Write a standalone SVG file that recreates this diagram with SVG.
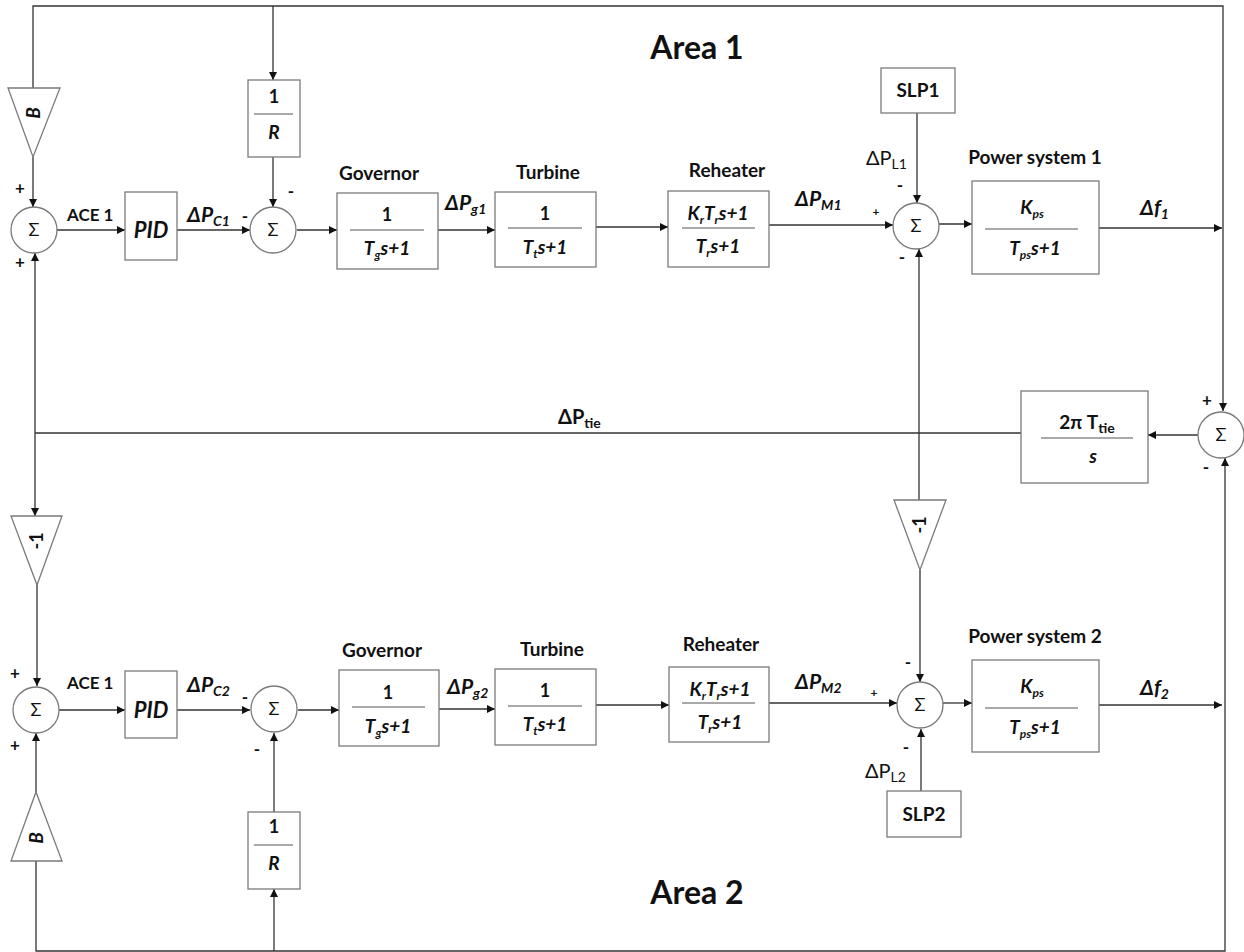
<svg xmlns="http://www.w3.org/2000/svg" width="1244" height="952" viewBox="0 0 1244 952">
<defs>
<marker id="ah" viewBox="0 0 10 10" refX="10" refY="5" markerWidth="9" markerHeight="8" markerUnits="userSpaceOnUse" orient="auto">
<path d="M0,0 L10,5 L0,10 z" fill="#111"/>
</marker>
<style>
.blk{fill:#fff;stroke:#7a7a7a;stroke-width:1.3}
.frac{stroke:#555;stroke-width:1.2}
.c{fill:none;stroke:#333;stroke-width:1.3}
.a{marker-end:url(#ah)}
text{font-family:"Lato","Open Sans","Liberation Sans",sans-serif;fill:#111}
.lb{font-size:19px;font-weight:bold}
.ace{font-size:17px;font-weight:bold}
.ar{font-size:32px;font-weight:bold}
.bi{font-size:19px;font-weight:bold;font-style:italic}
.dp{font-size:21px;font-weight:bold;font-style:italic}
.bn{font-size:18px;font-weight:bold}
.sg{font-size:17px;font-weight:bold}
.sm{font-size:12px;font-weight:bold}
.sm2{font-size:14px;font-weight:bold}
.sig{font-size:18px}
.m{text-anchor:middle}
.dl{font-size:20px}
</style>
</defs>
<rect width="1244" height="952" fill="#fff"/>

<g id="connectors">
<path class="c a" d="M33,88 V6 H1223 V411"/>
<path class="c a" d="M273,6 V80"/>
<path class="c a" d="M33,157 V207"/>
<path class="c a" d="M273,157 V207"/>
<path class="c a" d="M57,230 H125"/>
<path class="c a" d="M177,230 H250"/>
<path class="c a" d="M297,230 H337"/>
<path class="c a" d="M438,230 H495"/>
<path class="c a" d="M596,227 H668"/>
<path class="c a" d="M769,225 H893"/>
<path class="c a" d="M917,113 V203"/>
<path class="c a" d="M939,224 H972"/>
<path class="c a" d="M1099,228 H1222"/>
<path class="c a" d="M1198,435 H1148"/>
<path class="c" d="M1021,433 H35"/>
<path class="c a" d="M35,431 V253"/>
<path class="c a" d="M35,431 V516"/>
<path class="c a" d="M37,585 V686"/>
<path class="c a" d="M919,500 V249"/>
<path class="c a" d="M920,570 V682"/>
<path class="c a" d="M59,710 H125"/>
<path class="c a" d="M177,710 H250"/>
<path class="c a" d="M298,710 H339"/>
<path class="c a" d="M439,709 H495"/>
<path class="c a" d="M596,705 H669"/>
<path class="c a" d="M769,703 H897"/>
<path class="c a" d="M943,703 H972"/>
<path class="c a" d="M1099,705 H1222"/>
<path class="c a" d="M921,791 V729"/>
<path class="c a" d="M36,792 V733"/>
<path class="c a" d="M36,861 V951 H1225 V458"/>
<path class="c a" d="M274,951 V889"/>
<path class="c a" d="M274,812 V733"/>
</g>

<g id="titles">
<text class="ar m" x="697" y="59">Area 1</text>
<text class="ar m" x="697" y="904">Area 2</text>
</g>

<!-- Area 1 -->
<g id="gainB1">
<polygon class="blk" points="8,88 60,88 33,157"/>
<text class="bi m" transform="translate(40,113) rotate(-90)">B</text>
</g>
<g id="sum1">
<circle class="blk" cx="34" cy="230" r="23"/>
<text class="sig m" x="34" y="236">Σ</text>
<text class="sg m" x="20" y="194">+</text>
<text class="sg m" x="20" y="268">+</text>
</g>
<g id="pid1">
<rect class="blk" x="125" y="192" width="52" height="68"/>
<text class="m" x="151" y="238" style="font-size:22px;font-weight:bold;font-style:italic">PID</text>
</g>
<text class="ace" x="67" y="221">ACE 1</text>
<text class="dp" x="187" y="222">ΔP<tspan class="sm2" dy="4">C1</tspan></text>
<g id="invR1">
<rect class="blk" x="248" y="80" width="52" height="77"/>
<text class="bn m" x="274" y="103">1</text>
<line class="frac" x1="254" y1="114" x2="293" y2="114"/>
<text class="bi m" x="274" y="139">R</text>
</g>
<g id="sum2">
<circle class="blk" cx="273" cy="230" r="23"/>
<text class="sig m" x="273" y="236">Σ</text>
<text class="sg m" x="291" y="197">-</text>
<text class="sg m" x="245" y="222">-</text>
</g>
<g id="gov1">
<text class="lb m" x="379" y="180">Governor</text>
<rect class="blk" x="337" y="193" width="101" height="76"/>
<text class="bn m" x="387" y="221">1</text>
<line class="frac" x1="350" y1="230" x2="424" y2="230"/>
<text class="bi m" x="387" y="255">T<tspan class="sm" dy="4">g</tspan><tspan dy="-4">s+1</tspan></text>
</g>
<text class="dp" x="445" y="210">ΔP<tspan class="sm2" dy="4">g1</tspan></text>
<g id="turb1">
<text class="lb m" x="548" y="179">Turbine</text>
<rect class="blk" x="495" y="192" width="101" height="75"/>
<text class="bn m" x="545" y="220">1</text>
<line class="frac" x1="508" y1="228" x2="582" y2="228"/>
<text class="bi m" x="545" y="254">T<tspan class="sm" dy="4">t</tspan><tspan dy="-4">s+1</tspan></text>
</g>
<g id="reh1">
<text class="lb m" x="727" y="177">Reheater</text>
<rect class="blk" x="668" y="191" width="101" height="76"/>
<text class="bi m" x="718" y="220">K<tspan class="sm" dy="4">r</tspan><tspan dy="-4">T</tspan><tspan class="sm" dy="4">r</tspan><tspan dy="-4">s+1</tspan></text>
<line class="frac" x1="682" y1="228" x2="755" y2="228"/>
<text class="bi m" x="718" y="253">T<tspan class="sm" dy="4">r</tspan><tspan dy="-4">s+1</tspan></text>
</g>
<text class="dp" x="795" y="206">ΔP<tspan class="sm2" dy="4">M1</tspan></text>
<g id="slp1">
<rect class="blk" x="881" y="68" width="74" height="45"/>
<text class="lb m" x="918" y="97">SLP1</text>
</g>
<text class="dl" x="866" y="165">ΔP<tspan style="font-size:14px" dy="4">L1</tspan></text>
<g id="sum3">
<circle class="blk" cx="916" cy="226" r="23"/>
<text class="sig m" x="916" y="232">Σ</text>
<text class="sg m" x="900" y="191">-</text>
<text class="m" x="876" y="216" style="font-size:12px;font-weight:bold">+</text>
<text class="sg m" x="902" y="263">-</text>
</g>
<g id="ps1">
<text class="lb m" x="1035" y="164">Power system 1</text>
<rect class="blk" x="972" y="181" width="127" height="93"/>
<text class="bi m" x="1032" y="214">K<tspan class="sm" dy="4">ps</tspan></text>
<line class="frac" x1="985" y1="229" x2="1078" y2="229"/>
<text class="bi m" x="1035" y="255">T<tspan class="sm" dy="4">ps</tspan><tspan dy="-4">s+1</tspan></text>
</g>
<text class="dp" x="1140" y="215">Δf<tspan class="sm2" dy="4">1</tspan></text>

<!-- Tie line -->
<g id="sumTie">
<circle class="blk" cx="1221" cy="435" r="23"/>
<text class="sig m" x="1221" y="441">Σ</text>
<text class="sg m" x="1207" y="406">+</text>
<text class="sg m" x="1206" y="473">-</text>
</g>
<g id="tie">
<rect class="blk" x="1021" y="391" width="127" height="92"/>
<text class="lb m" x="1087" y="429">2π T<tspan class="sm2" dy="4">tie</tspan></text>
<line class="frac" x1="1041" y1="438" x2="1133" y2="438"/>
<text class="bi m" x="1093" y="463">s</text>
</g>
<text x="558" y="424" style="font-size:20px;font-weight:bold">ΔP<tspan class="sm2" dy="4">tie</tspan></text>
<g id="neg1a">
<polygon class="blk" points="11,516 62,516 37,585"/>
<text class="bn m" transform="translate(43,541) rotate(-90)">-1</text>
</g>
<g id="neg1b">
<polygon class="blk" points="894,500 946,500 920,570"/>
<text class="bn m" transform="translate(926,525) rotate(-90)">-1</text>
</g>

<!-- Area 2 -->
<g id="sum5">
<circle class="blk" cx="36" cy="710" r="23"/>
<text class="sig m" x="36" y="716">Σ</text>
<text class="sg m" x="15" y="679">+</text>
<text class="sg m" x="15" y="751">+</text>
</g>
<text class="ace" x="67" y="689">ACE 1</text>
<g id="pid2">
<rect class="blk" x="125" y="671" width="52" height="67"/>
<text class="m" x="151" y="718" style="font-size:22px;font-weight:bold;font-style:italic">PID</text>
</g>
<text class="dp" x="187" y="692">ΔP<tspan class="sm2" dy="4">C2</tspan></text>
<g id="sum6">
<circle class="blk" cx="274" cy="709" r="23"/>
<text class="sig m" x="274" y="715">Σ</text>
<text class="sg m" x="245" y="703">-</text>
<text class="sg m" x="257" y="755">-</text>
</g>
<g id="gainB2">
<polygon class="blk" points="11,861 62,861 36,792"/>
<text class="bi m" transform="translate(43,838) rotate(-90)">B</text>
</g>
<g id="invR2">
<rect class="blk" x="248" y="812" width="52" height="77"/>
<text class="bn m" x="274" y="833">1</text>
<line class="frac" x1="254" y1="845" x2="293" y2="845"/>
<text class="bi m" x="274" y="870">R</text>
</g>
<g id="gov2">
<text class="lb m" x="382" y="657">Governor</text>
<rect class="blk" x="339" y="670" width="100" height="76"/>
<text class="bn m" x="388" y="699">1</text>
<line class="frac" x1="352" y1="707" x2="425" y2="707"/>
<text class="bi m" x="388" y="733">T<tspan class="sm" dy="4">g</tspan><tspan dy="-4">s+1</tspan></text>
</g>
<text class="dp" x="447" y="694">ΔP<tspan class="sm2" dy="4">g2</tspan></text>
<g id="turb2">
<text class="lb m" x="552" y="656">Turbine</text>
<rect class="blk" x="495" y="669" width="101" height="76"/>
<text class="bn m" x="545" y="697">1</text>
<line class="frac" x1="508" y1="706" x2="582" y2="706"/>
<text class="bi m" x="545" y="731">T<tspan class="sm" dy="4">t</tspan><tspan dy="-4">s+1</tspan></text>
</g>
<g id="reh2">
<text class="lb m" x="721" y="651">Reheater</text>
<rect class="blk" x="669" y="667" width="100" height="75"/>
<text class="bi m" x="720" y="696">K<tspan class="sm" dy="4">r</tspan><tspan dy="-4">T</tspan><tspan class="sm" dy="4">r</tspan><tspan dy="-4">s+1</tspan></text>
<line class="frac" x1="682" y1="703" x2="755" y2="703"/>
<text class="bi m" x="720" y="729">T<tspan class="sm" dy="4">r</tspan><tspan dy="-4">s+1</tspan></text>
</g>
<text class="dp" x="795" y="689">ΔP<tspan class="sm2" dy="4">M2</tspan></text>
<g id="sum4">
<circle class="blk" cx="920" cy="705" r="23"/>
<text class="sig m" x="920" y="711">Σ</text>
<text class="sg m" x="908" y="668">-</text>
<text class="m" x="874" y="697" style="font-size:12px;font-weight:bold">+</text>
<text class="sg m" x="906" y="753">-</text>
</g>
<text class="dl" x="865" y="778">ΔP<tspan style="font-size:14px" dy="4">L2</tspan></text>
<g id="slp2">
<rect class="blk" x="887" y="791" width="74" height="46"/>
<text class="lb m" x="924" y="821">SLP2</text>
</g>
<g id="ps2">
<text class="lb m" x="1035" y="643">Power system 2</text>
<rect class="blk" x="972" y="660" width="127" height="92"/>
<text class="bi m" x="1032" y="693">K<tspan class="sm" dy="4">ps</tspan></text>
<line class="frac" x1="985" y1="708" x2="1078" y2="708"/>
<text class="bi m" x="1035" y="734">T<tspan class="sm" dy="4">ps</tspan><tspan dy="-4">s+1</tspan></text>
</g>
<text class="dp" x="1140" y="695">Δf<tspan class="sm2" dy="4">2</tspan></text>
</svg>
